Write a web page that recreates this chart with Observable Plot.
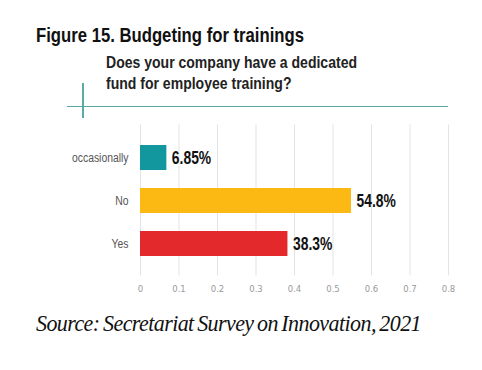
<!DOCTYPE html>
<html>
<head>
<meta charset="utf-8">
<script src="https://cdn.jsdelivr.net/npm/d3@7"></script>
<script src="https://cdn.jsdelivr.net/npm/@observablehq/plot@0.6"></script>
<style>
  html, body { margin: 0; padding: 0; background: #fff; }
  #wrap { position: relative; width: 482px; height: 370px; overflow: hidden; background: #fff; }
  .abs { position: absolute; white-space: nowrap; transform-origin: 0 0; }
  #title { left: 36px; top: 23px; font: bold 20.5px "Liberation Sans", Arial, sans-serif; color: #111; line-height: 24px; }
  #subtitle { left: 106px; top: 53px; font: bold 17px "Liberation Sans", Arial, sans-serif; color: #222; line-height: 20.5px; }
  #hline { left: 67px; top: 105.5px; width: 381px; height: 1.5px; background: #5ba9a9; }
  #vline { left: 82px; top: 83px; width: 1.5px; height: 35px; background: #5ba9a9; }
  #chart { left: 0; top: 118px; }
  #source { left: 36px; top: 311px; font: italic 23px "Liberation Serif", "DejaVu Serif", serif; color: #111; letter-spacing: -0.6px; word-spacing: -1.5px; line-height: 26px; }
</style>
</head>
<body>
<div id="wrap">
  <div id="title" class="abs">Figure 15. Budgeting for trainings</div>
  <div id="subtitle" class="abs"><span id="sub1">Does your company have a dedicated</span><br>fund for employee training?</div>
  <div id="chart" class="abs"></div>
  <div id="vline" class="abs"></div>
  <div id="hline" class="abs"></div>
  <div id="source" class="abs">Source: Secretariat Survey on Innovation, 2021</div>
</div>
<script>
const categories = ["occasionally", "No", "Yes"];
const values = [0.0685, 0.548, 0.383];
const valueLabels = ["6.85%", "54.8%", "38.3%"];
const xTicks = [0, 0.1, 0.2, 0.3, 0.4, 0.5, 0.6, 0.7, 0.8];
const xTickLabels = ["0", "0.1", "0.2", "0.3", "0.4", "0.5", "0.6", "0.7", "0.8"];

const data = categories.map((c, i) => ({cat: c, value: values[i], label: valueLabels[i]}));

const sans = '"Liberation Sans", Arial, sans-serif';

const chart = Plot.plot({
  width: 482,
  height: 182,
  marginLeft: 140,
  marginRight: 34,
  marginTop: 6.5,
  marginBottom: 24.6,
  style: {background: "transparent", fontFamily: sans},
  x: {domain: [0, 0.8], label: null},
  y: {domain: categories, padding: 0.43, label: null},
  color: {domain: categories, range: ["#13979e", "#fdb913", "#e4292d"]},
  marks: [
    Plot.ruleX(xTicks, {stroke: "#e3e3e3", strokeWidth: 1}),
    Plot.barX(data, {x: "value", y: "cat", fill: "cat"}),
    Plot.text(data, {x: "value", y: "cat", text: "label", textAnchor: "start", dx: 5, fontSize: 19, fontWeight: "bold", fill: "#111", fontFamily: sans}),
    Plot.axisX(xTicks, {tickSize: 0, tickPadding: 10, fontSize: 8.5, fill: "#9a9a9a", fontFamily: '"DejaVu Sans", sans-serif', tickFormat: (d, i) => xTickLabels[i], label: null}),
    Plot.axisY({tickSize: 0, tickPadding: 12, fontSize: 12.5, fill: "#555", fontFamily: sans, label: null})
  ]
});
document.getElementById("chart").appendChild(chart);

// condense text to mimic the narrow typeface of the original
function squeeze(sel, f) {
  chart.querySelectorAll(sel).forEach(t => {
    const w = t.getComputedTextLength();
    t.setAttribute("textLength", (w * f).toFixed(2));
    t.setAttribute("lengthAdjust", "spacingAndGlyphs");
  });
}
squeeze('g[aria-label="text"] text', 0.73);
squeeze('g[aria-label="y-axis tick label"] text', 0.83);

function fit(el, measureEl, target) {
  const w = measureEl.getBoundingClientRect().width;
  el.style.transform = `scaleX(${target / w})`;
}
fit(document.getElementById("title"), document.getElementById("title"), 268);
fit(document.getElementById("subtitle"), document.getElementById("sub1"), 251);
fit(document.getElementById("source"), document.getElementById("source"), 385);
</script>
</body>
</html>
